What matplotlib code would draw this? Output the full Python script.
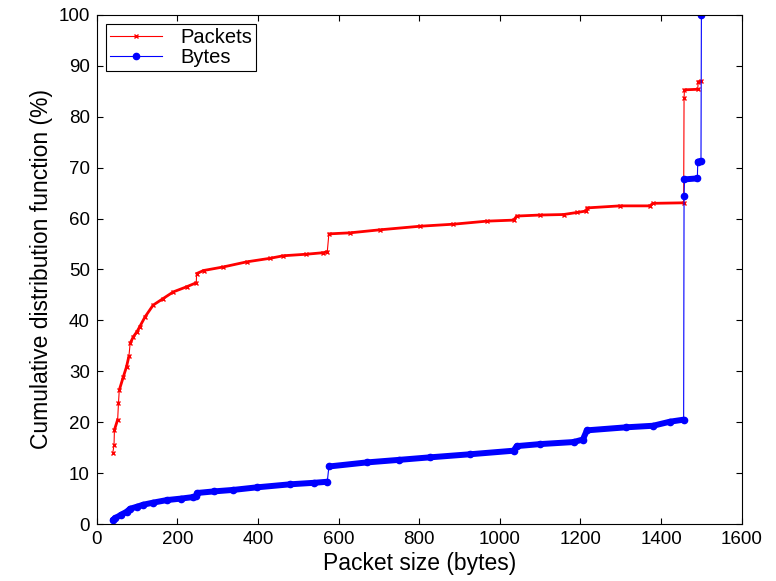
import numpy as np
import matplotlib
matplotlib.use("Agg")
import matplotlib.pyplot as plt
from matplotlib.lines import Line2D

plt.rcParams['font.family'] = ['Liberation Sans', 'DejaVu Sans']

# packet size CDF
pkt_size = [40, 43, 44, 52, 54, 56, 66, 74, 80, 83, 91, 100, 107, 120, 140, 165, 190,
            223, 247, 248, 265, 314, 372, 430, 463, 520, 562, 572, 576, 628, 703, 802,
            885, 968, 1034, 1042, 1100, 1158, 1191, 1215, 1216, 1298, 1372, 1380, 1456,
            1457, 1458, 1491, 1492, 1500]
pkt_cdf = [14.0, 15.5, 18.5, 20.5, 23.7, 26.3, 28.9, 30.9, 33.0, 35.5, 36.8, 37.8, 38.8,
           40.7, 43.0, 44.3, 45.6, 46.6, 47.4, 49.2, 49.8, 50.5, 51.5, 52.2, 52.7, 53.0,
           53.3, 53.5, 57.0, 57.2, 57.8, 58.5, 58.9, 59.5, 59.7, 60.5, 60.7, 60.8, 61.2,
           61.5, 62.1, 62.5, 62.5, 63.0, 63.1, 83.6, 85.3, 85.4, 86.9, 87.0]

# byte-weighted CDF
byte_size = [40, 45, 60, 74, 83, 100, 116, 140, 174, 210, 240, 247, 250, 290, 339, 397,
             480, 540, 572, 576, 670, 750, 827, 926, 1034, 1042, 1100, 1183, 1206, 1216,
             1314, 1380, 1422, 1456, 1457, 1458, 1490, 1491, 1499, 1500]
byte_cdf = [0.8, 1.1, 1.8, 2.4, 3.0, 3.4, 3.8, 4.2, 4.7, 5.0, 5.3, 5.5, 6.1, 6.4, 6.7, 7.2,
            7.8, 8.1, 8.3, 11.3, 12.1, 12.6, 13.1, 13.7, 14.4, 15.3, 15.7, 16.1, 16.6, 18.4,
            19.0, 19.3, 20.1, 20.5, 64.4, 67.7, 67.9, 71.2, 71.3, 100.0]


def band(x, y):
    # dense markers in the original form a thick band; break it at real jumps
    x = np.asarray(x, float)
    y = np.asarray(y, float)
    cut = np.where((np.diff(y) > 1.0) & (np.diff(x) <= 5))[0] + 1
    return np.insert(x, cut, np.nan), np.insert(y, cut, np.nan)


fig = plt.figure(figsize=(7.76, 5.81), dpi=100)
ax = fig.add_axes([0.1246, 0.0981, 0.8312, 0.8761])

bx, by = band(pkt_size, pkt_cdf)
ax.plot(bx, by, color='red', lw=2.0, solid_capstyle='round')
ax.plot(pkt_size, pkt_cdf, color='red', lw=0.8)
ax.plot(pkt_size, pkt_cdf, color='red', ls='none', marker='x', ms=3, mew=1)

bx, by = band(byte_size, byte_cdf)
ax.plot(bx, by, color='blue', lw=4.3, solid_capstyle='round')
ax.plot(byte_size, byte_cdf, color='blue', lw=0.8)
ax.plot(byte_size, byte_cdf, color='blue', ls='none', marker='o', ms=4.5)

ax.set_xlim(0, 1600)
ax.set_ylim(0, 100)
ax.set_xticks(range(0, 1601, 200))
ax.set_yticks(range(0, 101, 10))
ax.tick_params(direction='in', top=True, right=True, length=4.5, width=0.8,
               labelsize=13.5, pad=5)
for s in ax.spines.values():
    s.set_linewidth(0.8)

ax.set_xlabel('Packet size (bytes)', fontsize=16.5, labelpad=3)
ax.set_ylabel('Cumulative distribution function (%)', fontsize=16.5, labelpad=4)

handles = [Line2D([], [], color='red', lw=0.8, marker='x', ms=3, mew=1),
           Line2D([], [], color='blue', lw=0.8, marker='o', ms=4.5)]
leg = ax.legend(handles, ['Packets', 'Bytes'], loc='upper left', fontsize=14.5,
                numpoints=1, fancybox=False, framealpha=1, edgecolor='black',
                borderaxespad=0.45, handlelength=2.6, handletextpad=0.9,
                borderpad=0.2, labelspacing=0.05)
leg.get_frame().set_linewidth(0.8)

fig.savefig('out.png', dpi=100)
